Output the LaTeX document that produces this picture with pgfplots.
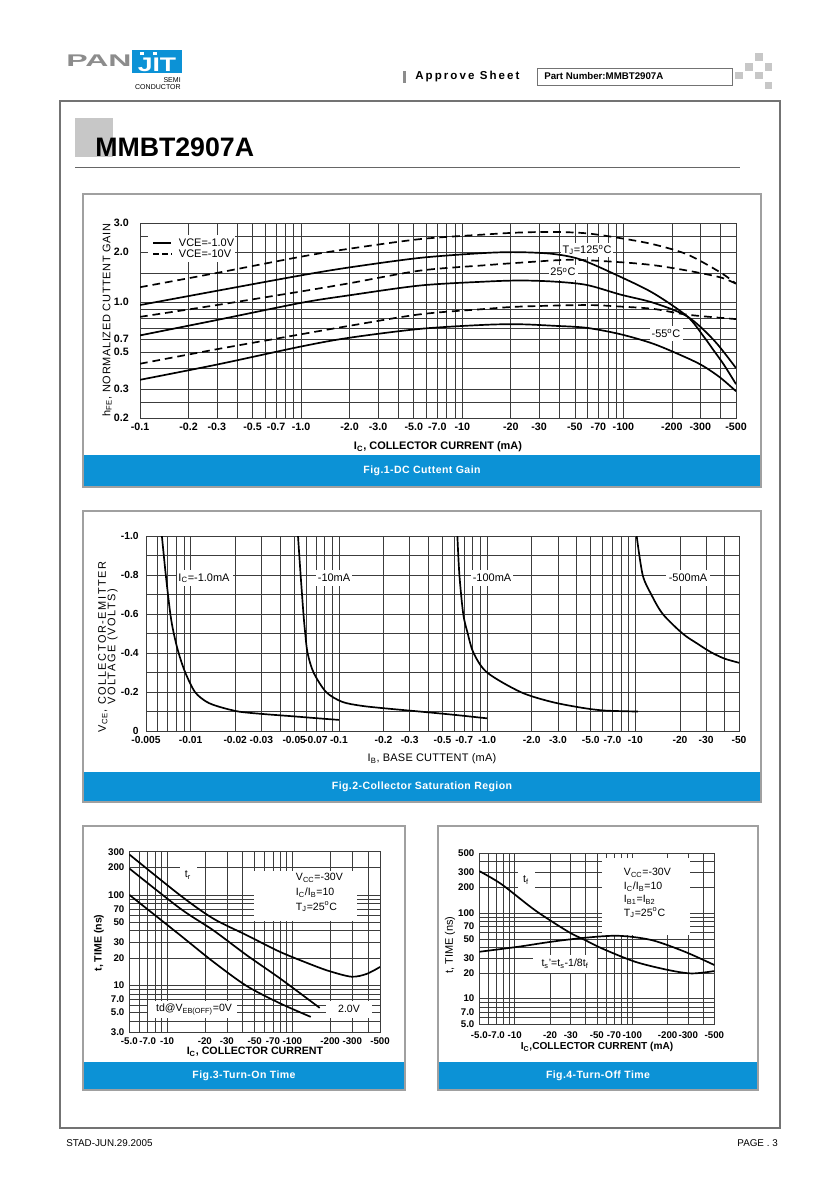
\documentclass[border=0pt]{standalone}
\usepackage{graphicx}
\usepackage{pgfplots}
\pgfplotsset{compat=1.18}
\usepackage{fontspec}
\setmainfont{Liberation Sans}
\definecolor{pjblue}{RGB}{12,146,214}
\definecolor{gridc}{RGB}{60,60,60}
\definecolor{frameg}{RGB}{160,160,160}
\newcommand{\fs}[1]{\fontsize{#1}{#1}\selectfont}
\pgfplotsset{
  every axis/.append style={
    scale only axis, anchor=south west,
    axis line style={gridc, line width=0.5pt},
    grid=both,
    major grid style={gridc, line width=0.4pt},
    minor grid style={gridc, line width=0.4pt},
    tick style={draw=none},
    major tick length=0pt, minor tick length=0pt,
  },
}
\tikzset{
  crv/.style={black, line width=1.2pt, smooth, mark=none},
  dcrv/.style={black, line width=1.2pt, smooth, mark=none, dash pattern=on 5.5pt off 3.5pt},
}
\begin{document}
\begin{tikzpicture}
\begin{scope}[x=0.25mm,y=-0.25mm]
\fill[white] (0,0) rectangle (840,1189);
% logo
\node[anchor=west, inner sep=0, text=black!45, font=\bfseries\fs{12}] at (66,61) {\scalebox{1.9}[1]{PAN}};
\fill[pjblue] (132,50) rectangle (182,73);
\node[inner sep=0, text=white, font=\bfseries\fs{14}] at (157,65) {\scalebox{1.35}[1]{JIT}};
\fill[white] (140,51.5) rectangle (144,54.5);
\fill[white] (153,51.5) rectangle (157,54.5);
\node[anchor=east, inner sep=0, font=\fs{5}] at (181,80) {SEMI};
\node[anchor=east, inner sep=0, font=\fs{5}] at (181,87) {CONDUCTOR};
% header
\fill[black!45] (403,71) rectangle (406,83);
\node[anchor=west, inner sep=0, font=\bfseries\fs{8.2}\addfontfeature{LetterSpace=18}] at (415,77) {Approve Sheet};
\draw[black!55, line width=0.5pt] (537,68) rectangle (732,85);
\node[anchor=west, inner sep=0, font=\bfseries\fs{6.9}] at (544,76.5) {Part Number:MMBT2907A};
\foreach \a/\b/\c/\d in {755/53/763/61, 745/63/753/71, 765/63/772/71, 735/72/743/79, 755/72/763/79, 765/82/772/89}
  \fill[black!22] (\a,\b) rectangle (\c,\d);
% page frame
\draw[black!55, line width=0.8pt] (60,101) rectangle (780,1128);
\fill[black!22] (75,118) rectangle (113,157);
\node[anchor=base west, inner sep=0, font=\bfseries\fs{19}] at (95,156) {MMBT2907A};
\draw[black!60, line width=0.5pt] (75,167) -- (740,167);
% panels
\draw[frameg, line width=1.5pt] (83,194) rectangle (761,487);
\fill[pjblue] (84,455) rectangle (760,486);
\draw[frameg, line width=1.5pt] (83,511) rectangle (761,802);
\fill[pjblue] (84,772) rectangle (760,801);
\draw[frameg, line width=1.5pt] (83,826) rectangle (405,1090);
\fill[pjblue] (84,1062) rectangle (404,1089);
\draw[frameg, line width=1.5pt] (438,826) rectangle (758,1090);
\fill[pjblue] (439,1062) rectangle (757,1089);
\node[text=white, font=\bfseries\fs{7.5}\addfontfeature{LetterSpace=4}] at (422,471) {Fig.1-DC Cuttent Gain};
\node[text=white, font=\bfseries\fs{7.5}\addfontfeature{LetterSpace=4}] at (422,787) {Fig.2-Collector Saturation Region};
\node[text=white, font=\bfseries\fs{7.5}\addfontfeature{LetterSpace=4}] at (244,1076) {Fig.3-Turn-On Time};
\node[text=white, font=\bfseries\fs{7.5}\addfontfeature{LetterSpace=4}] at (598,1076) {Fig.4-Turn-Off Time};
% footer
\node[anchor=west, inner sep=0, font=\fs{7}] at (66,1143) {STAD-JUN.29.2005};
\node[anchor=east, inner sep=0, font=\fs{7}] at (778,1143) {PAGE . 3};
\end{scope}

% ---------------- Fig 1 ----------------
\begin{axis}[xmode=log, ymode=log, at={(35mm,-104.5mm)}, width=149mm, height=48.75mm,
  xmin=0.1, xmax=500, ymin=0.2, ymax=3,
  xtick={0.1,0.2,0.3,0.5,0.7,1,2,3,5,7,10,20,30,50,70,100,200,300,500},
  xticklabels={-0.1,-0.2,-0.3,-0.5,-0.7,-1.0,-2.0,-3.0,-5.0,-7.0,-10,-20,-30,-50,-70,-100,-200,-300,-500},
  minor xtick={0.4,0.6,0.8,0.9,4,6,8,9,40,60,80,90,400},
  ytick={0.2,0.3,0.5,0.6,1,2,3},
  yticklabels={0.2,0.3,0.5,0.7,1.0,2.0,3.0},
  minor ytick={0.25,0.4,0.7,0.8,0.9,1.5,2.5},
  ticklabel style={font=\bfseries\fs{7.6}},
  yticklabel style={xshift=-4.5pt},
]
\fill[white] (rel axis cs:0.706,0.826) rectangle (rel axis cs:0.794,0.897);
\fill[white] (rel axis cs:0.686,0.708) rectangle (rel axis cs:0.735,0.785);
\fill[white] (rel axis cs:0.856,0.395) rectangle (rel axis cs:0.911,0.472);
\fill[white] (rel axis cs:0.013,0.802) rectangle (rel axis cs:0.16,0.94);
\addplot[crv] coordinates {(0.1,0.96) (0.3,1.17) (1,1.45) (2,1.62) (5.5,1.85) (14,1.98) (23,2.0) (37,1.95) (55,1.8) (96,1.42) (154,1.13) (249,0.82) (315,0.62) (364,0.51) (420,0.42) (500,0.32)};
\addplot[dcrv] coordinates {(0.1,1.23) (0.3,1.5) (1,1.88) (2,2.1) (5.5,2.4) (14,2.56) (23,2.63) (37,2.65) (59,2.6) (96,2.43) (154,2.23) (249,1.94) (400,1.51) (500,1.29)};
\addplot[crv] coordinates {(0.1,0.63) (0.3,0.78) (1,0.99) (2,1.1) (5.5,1.26) (14,1.33) (23,1.35) (37,1.33) (59,1.27) (96,1.11) (154,0.99) (249,0.82) (364,0.59) (500,0.40)};
\addplot[dcrv] coordinates {(0.1,0.815) (0.3,0.96) (1,1.16) (2,1.3) (5.5,1.55) (14,1.67) (23,1.73) (47,1.8) (96,1.74) (154,1.67) (249,1.55) (400,1.41) (500,1.29)};
\addplot[crv] coordinates {(0.1,0.34) (0.3,0.42) (1,0.54) (2,0.61) (5.5,0.69) (14,0.73) (23,0.735) (37,0.72) (59,0.70) (96,0.64) (154,0.56) (249,0.46) (315,0.41) (400,0.35) (500,0.29)};
\addplot[dcrv] coordinates {(0.1,0.425) (0.3,0.52) (1,0.64) (2,0.72) (5.5,0.845) (14,0.91) (23,0.94) (59,0.96) (96,0.94) (154,0.91) (249,0.84) (500,0.79)};
\end{axis}

% ---------------- Fig 2 ----------------
\begin{axis}[xmode=log, at={(36.5mm,-182.75mm)}, width=148.25mm, height=48.75mm,
  xmin=0.005, xmax=50, ymin=0, ymax=1,
  xtick={0.005,0.01,0.02,0.03,0.05,0.07,0.1,0.2,0.3,0.5,0.7,1,2,3,5,7,10,20,30,50},
  xticklabels={-0.005,-0.01,-0.02,-0.03,-0.05,-0.07,-0.1,-0.2,-0.3,-0.5,-0.7,-1.0,-2.0,-3.0,-5.0,-7.0,-10,-20,-30,-50},
  minor xtick={0.006,0.007,0.008,0.009,0.04,0.06,0.08,0.09,0.4,0.6,0.8,0.9,4,6,8,9,40},
  ytick={0,0.2,0.4,0.6,0.8,1}, yticklabels={0,-0.2,-0.4,-0.6,-0.8,-1.0},
  minor ytick={0.1,0.3,0.5,0.7,0.9},
  ticklabel style={font=\bfseries\fs{7.3}},
  yticklabel style={xshift=-1.7pt},
]
\fill[white] (rel axis cs:0.052,0.744) rectangle (rel axis cs:0.147,0.826);
\fill[white] (rel axis cs:0.287,0.744) rectangle (rel axis cs:0.347,0.826);
\fill[white] (rel axis cs:0.548,0.744) rectangle (rel axis cs:0.619,0.826);
\fill[white] (rel axis cs:0.877,0.744) rectangle (rel axis cs:0.951,0.826);
\addplot[crv] coordinates {(0.0064,1.0) (0.0068,0.8) (0.0073,0.6) (0.0077,0.5) (0.0083,0.4) (0.0092,0.3) (0.0107,0.2) (0.0128,0.15) (0.0155,0.125) (0.021,0.1) (0.03,0.088) (0.05,0.075) (0.07,0.066) (0.1,0.057)};
\addplot[crv] coordinates {(0.053,1.0) (0.0552,0.8) (0.0577,0.6) (0.0593,0.5) (0.0615,0.4) (0.0675,0.3) (0.082,0.2) (0.105,0.15) (0.14,0.13) (0.2,0.117) (0.35,0.1) (0.6,0.083) (1.0,0.065)};
\addplot[crv] coordinates {(0.63,1.0) (0.65,0.8) (0.69,0.6) (0.74,0.5) (0.81,0.4) (1.0,0.3) (1.68,0.2) (2.7,0.15) (4.3,0.12) (6.2,0.105) (10.4,0.1)};
\addplot[crv] coordinates {(10.2,1.0) (11.2,0.8) (12.8,0.7) (15.3,0.6) (20.8,0.5) (26.2,0.448) (32.2,0.405) (39.7,0.372) (50,0.35)};
\end{axis}

% ---------------- Fig 3 ----------------
\begin{axis}[xmode=log, ymode=log, at={(32.33mm,-258.08mm)}, width=62.68mm, height=45.15mm,
  xmin=5, xmax=500, ymin=3, ymax=300,
  xtick={5,7,10,20,30,50,70,100,200,300,500},
  xticklabels={-5.0,-7.0,-10,-20,-30,-50,-70,-100,-200,-300,-500},
  minor xtick={6,8,9,40,60,80,90,400},
  ytick={3,5,7,10,20,30,50,70,100,200,300},
  yticklabels={3.0,5.0,7.0,10,20,30,50,70,100,200,300},
  minor ytick={4,6,8,9,40,60,80,90},
  ticklabel style={font=\bfseries\fs{6.9}},
  xticklabel style={inner xsep=0pt},
]
\fill[white] (rel axis cs:0.497,0.616) rectangle (rel axis cs:0.908,0.893);
\fill[white] (rel axis cs:0.202,0.824) rectangle (rel axis cs:0.27,0.922);
\fill[white] (rel axis cs:0.075,0.079) rectangle (rel axis cs:0.43,0.173);
\fill[white] (rel axis cs:0.785,0.079) rectangle (rel axis cs:0.968,0.173);
\addplot[crv] coordinates {(5,280) (12.7,99) (23.3,54.7) (43.1,35.8) (79.4,23.4) (146,16.6) (200,14.2) (296,12.4) (390,13.3) (500,15.9)};
\addplot[crv] coordinates {(5,196) (12.7,70.7) (23.3,40.6) (43.1,21.5) (79.4,11.9) (165,5.6)};
\addplot[crv] coordinates {(5,100) (12.7,35.8) (23.3,18.2) (43.1,9.8) (79.4,6.3) (140,4.45)};
\end{axis}

% ---------------- Fig 4 ----------------
\begin{axis}[xmode=log, ymode=log, at={(119.83mm,-256.08mm)}, width=58.75mm, height=42.75mm,
  xmin=5, xmax=500, ymin=5, ymax=500,
  xtick={5,7,10,20,30,50,70,100,200,300,500},
  xticklabels={-5.0,-7.0,-10,-20,-30,-50,-70,-100,-200,-300,-500},
  minor xtick={6,8,9,40,60,80,90,400},
  ytick={5,7,10,20,30,50,70,100,200,300,500},
  yticklabels={5.0,7.0,10,20,30,50,70,100,200,300,500},
  minor ytick={6,8,9,40,60,80,90,400},
  ticklabel style={font=\bfseries\fs{6.9}},
  xticklabel style={yshift=-2pt, inner xsep=0pt},
]
\fill[white] (rel axis cs:0.165,0.785) rectangle (rel axis cs:0.237,0.896);
\fill[white] (rel axis cs:0.522,0.522) rectangle (rel axis cs:0.897,0.973);
\fill[white] (rel axis cs:0.228,0.30) rectangle (rel axis cs:0.501,0.405);
\addplot[crv] coordinates {(5,310) (7.75,217) (14.9,108) (28.6,60.5) (39.7,48.4) (55.1,38.7) (105.7,27) (203,21.6) (321,19.7) (500,21)};
\addplot[crv] coordinates {(5,35.3) (10.7,40.4) (20.6,46.3) (39.7,51.5) (76.2,54.3) (146,48.4) (281,35.3) (500,24.7)};
\end{axis}

% ---------------- annotations ----------------
\begin{scope}[x=0.25mm,y=-0.25mm]
% fig1 legend
\draw[black, line width=1.1pt] (153,243) -- (171,243);
\draw[black, line width=1.1pt, dash pattern=on 4pt off 2.5pt] (153,254) -- (172,254);
\node[anchor=west, font=\fs{7.8}] at (174,243) {VCE=-1.0V};
\node[anchor=west, font=\fs{7.8}] at (174,254) {VCE=-10V};
% fig1
\node[font=\fs{7.8}] at (587,250) {T\textsubscript{J}=125\textsuperscript{o}C};
\node[font=\fs{7.8}] at (563,272) {25\textsuperscript{o}C};
\node[font=\fs{7.8}] at (666,333) {-55\textsuperscript{o}C};
\node[rotate=90, font=\fs{7.8}\addfontfeature{LetterSpace=6}] at (107,320) {h\textsubscript{FE}, NORMALIZED CUTTENT GAIN};
\node[font=\bfseries\fs{7.8}] at (438,447) {I\textsubscript{C}, COLLECTOR CURRENT (mA)};
% fig2
\node[font=\fs{7.8}] at (204,578) {I\textsubscript{C}=-1.0mA};
\node[font=\fs{7.8}] at (334,578) {-10mA};
\node[font=\fs{7.8}] at (492,578) {-100mA};
\node[font=\fs{7.8}] at (688,578) {-500mA};
\node[font=\fs{7.8}\addfontfeature{LetterSpace=2}] at (432,759) {I\textsubscript{B}, BASE CUTTENT (mA)};
\node[rotate=90, align=center, font=\fs{7.8}\addfontfeature{LetterSpace=14}] at (108,647) {V\textsubscript{CE}, COLLECTOR-EMITTER\\[-1pt]VOLTAGE (VOLTS)};
% fig3
\node[font=\fs{7.5}] at (188,875) {t\textsubscript{r}};
\node[anchor=west, font=\fs{7.5}] at (291,878) {V\textsubscript{CC}=-30V};
\node[anchor=west, font=\fs{7.5}] at (291,893) {I\textsubscript{C}/I\textsubscript{B}=10};
\node[anchor=west, font=\fs{7.5}] at (291,907) {T\textsubscript{J}=25\textsuperscript{o}C};
\node[font=\fs{7.5}] at (194,1009) {td@V\textsubscript{EB(OFF)}=0V};
\node[font=\fs{7.5}] at (349,1009) {2.0V};
\node[rotate=90, font=\bfseries\fs{7.5}] at (99,943) {t, TIME (ns)};
\node[font=\bfseries\fs{7.6}] at (255,1052) {I\textsubscript{C}, COLLECTOR CURRENT};
% fig4
\node[font=\fs{7.5}] at (526,880) {t\textsubscript{f}};
\node[anchor=west, font=\fs{7.5}] at (619,873) {V\textsubscript{CC}=-30V};
\node[anchor=west, font=\fs{7.5}] at (619,887) {I\textsubscript{C}/I\textsubscript{B}=10};
\node[anchor=west, font=\fs{7.5}] at (619,900) {I\textsubscript{B1}=I\textsubscript{B2}};
\node[anchor=west, font=\fs{7.5}] at (619,913) {T\textsubscript{J}=25\textsuperscript{o}C};
\node[font=\fs{7.5}] at (565,964) {t\textsubscript{s}'=t\textsubscript{s}-1/8t\textsubscript{f}};
\node[rotate=90, font=\fs{7.8}] at (450,945) {t, TIME (ns)};
\node[font=\bfseries\fs{7.2}] at (597,1047) {I\textsubscript{C},COLLECTOR CURRENT (mA)};
\end{scope}
\end{tikzpicture}
\end{document}
